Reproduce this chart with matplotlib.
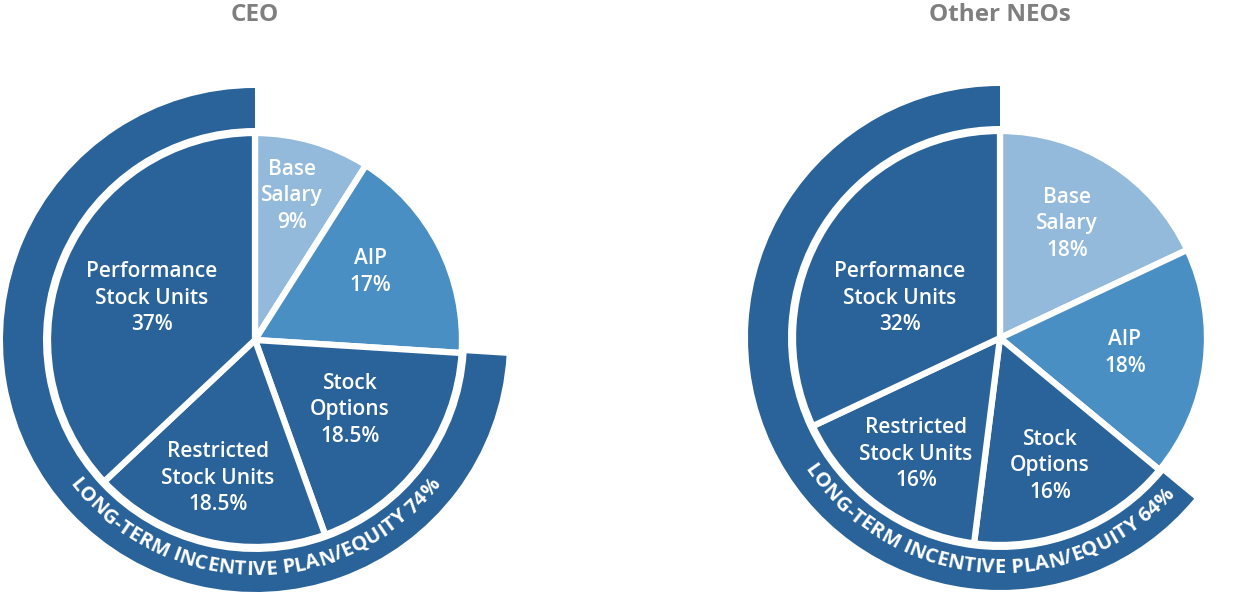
import numpy as np
import matplotlib
matplotlib.use("Agg")
import matplotlib.pyplot as plt
from matplotlib.font_manager import FontProperties
from matplotlib.textpath import text_to_path

# data
ceo_labels = ["Base\nSalary\n9%", "AIP\n17%", "Stock\nOptions\n18.5%",
              "Restricted\nStock Units\n18.5%", "Performance\nStock Units\n37%"]
ceo_values = [9, 17, 18.5, 18.5, 37]
ceo_lti = 74

neo_labels = ["Base\nSalary\n18%", "AIP\n18%", "Stock\nOptions\n16%",
              "Restricted\nStock Units\n16%", "Performance\nStock Units\n32%"]
neo_values = [18, 18, 16, 16, 32]
neo_lti = 64

titles = ["CEO", "Other NEOs"]
ring_text = "LONG-TERM INCENTIVE PLAN/EQUITY {}%"

DARK = "#2a6399"
MID = "#4a8fc3"
LIGHT = "#93badb"
colors = [LIGHT, MID, DARK, DARK, DARK]

W, H = 1255, 594
fig = plt.figure(figsize=(W / 100, H / 100), dpi=100)
ax = fig.add_axes([0, 0, 1, 1])

FONT = "Open Sans"


def curved_text(ax, s, cx, cy, r, center_deg, size):
    fp = FontProperties(family=FONT, weight="bold", size=size)
    widths = []
    for ch in s:
        w, h, d = text_to_path.get_text_width_height_descent(ch, fp, ismath=False)
        widths.append(w * 100 / 72)  # points -> px
    total = sum(widths)
    span = np.degrees(total / r)
    ang = center_deg - span / 2
    for ch, w in zip(s, widths):
        a = ang + np.degrees(w / 2 / r)
        t = np.radians(a)
        ax.text(cx + r * np.cos(t), cy + r * np.sin(t), ch, color="white",
                fontproperties=fp, rotation=a + 90, rotation_mode="anchor",
                ha="center", va="center")
        ang += np.degrees(w / r)


def draw(cx, cy, values, labels, lti, title, label_pos, text_center):
    # outer ring for long-term incentive
    ax.pie([lti, 100 - lti], startangle=90, counterclock=True, center=(cx, cy),
           radius=252, colors=[DARK, "none"],
           wedgeprops=dict(width=40, edgecolor="none"))
    ax.pie(values, startangle=90, counterclock=False, center=(cx, cy),
           radius=207, colors=colors,
           wedgeprops=dict(edgecolor="white", linewidth=4.5))
    for lab, (px, py) in zip(labels, label_pos):
        ax.text(px, H - py, lab, ha="center", va="center", color="white",
                fontsize=15, family=FONT, weight="semibold", linespacing=1.35)
    curved_text(ax, ring_text.format(lti), cx, cy, 230, text_center, 14.5)
    ax.text(cx, H - 15, title, ha="center", va="center", color="#7f7f7f",
            fontsize=17.5, family=FONT, weight="bold")


draw(255, H - 340, ceo_values, ceo_labels, ceo_lti, titles[0],
     [(292, 196), (370, 272), (350, 410), (218, 478), (152, 298)], -90)
draw(1000, H - 338, neo_values, neo_labels, neo_lti, titles[1],
     [(1067, 224), (1125, 353), (1050, 466), (916, 454), (900, 298)], -94)

ax.set_xlim(0, W)
ax.set_ylim(0, H)
ax.set_aspect("equal")
ax.axis("off")
fig.savefig("out.png", dpi=100)
